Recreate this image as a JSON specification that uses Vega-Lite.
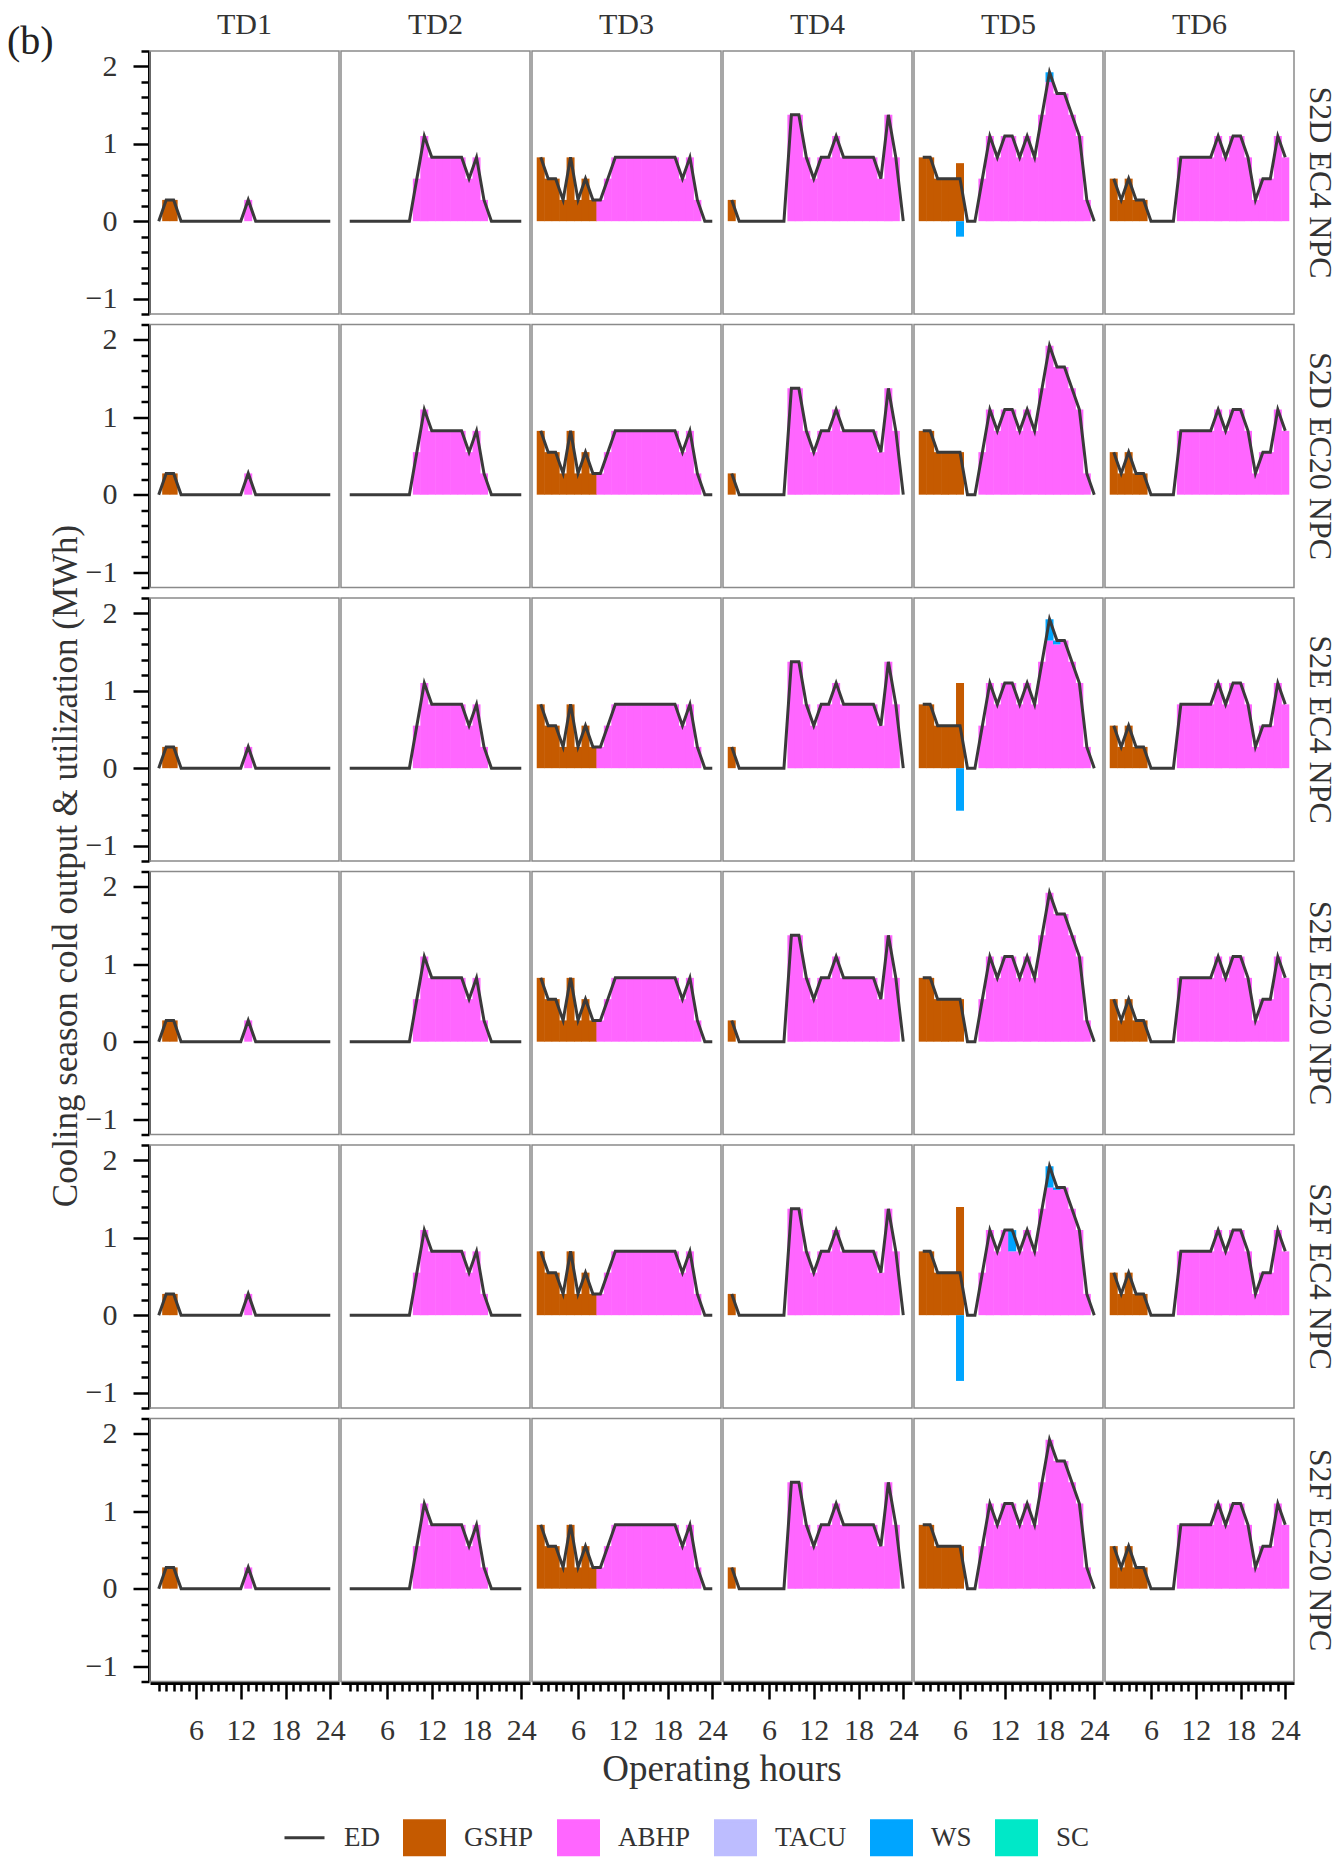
{
  "$schema": "https://vega.github.io/schema/vega-lite/v6.json",
  "background": "white",
  "padding": {"left": 6, "top": 10, "right": 8, "bottom": 10},
  "title": {
    "text": "(b)",
    "anchor": "start",
    "frame": "bounds",
    "offset": -52,
    "dx": -42,
    "font": "Liberation Serif",
    "fontSize": 40,
    "fontWeight": "normal",
    "color": "#222"
  },
  "data": {
    "values": [
      {"s": "S2D EC4 NPC", "t": "TD1", "h": [1,2,3,4,5,6,7,8,9,10,11,12,13,14,15,16,17,18,19,20,21,22,23,24], "ED": [0,0.275,0.275,0,0,0,0,0,0,0,0,0,0.275,0,0,0,0,0,0,0,0,0,0,0], "GSHP": [0,0.275,0.275,0,0,0,0,0,0,0,0,0,0,0,0,0,0,0,0,0,0,0,0,0], "ABHP": [0,0,0,0,0,0,0,0,0,0,0,0,0.275,0,0,0,0,0,0,0,0,0,0,0], "WS": []},
      {"s": "S2D EC4 NPC", "t": "TD2", "h": [1,2,3,4,5,6,7,8,9,10,11,12,13,14,15,16,17,18,19,20,21,22,23,24], "ED": [0,0,0,0,0,0,0,0,0,0.55,1.1,0.825,0.825,0.825,0.825,0.825,0.55,0.825,0.275,0,0,0,0,0], "GSHP": [], "ABHP": [0,0,0,0,0,0,0,0,0,0.55,1.1,0.825,0.825,0.825,0.825,0.825,0.55,0.825,0.275,0,0,0,0,0], "WS": []},
      {"s": "S2D EC4 NPC", "t": "TD3", "h": [1,2,3,4,5,6,7,8,9,10,11,12,13,14,15,16,17,18,19,20,21,22,23,24], "ED": [0.825,0.55,0.55,0.275,0.825,0.275,0.55,0.275,0.275,0.55,0.825,0.825,0.825,0.825,0.825,0.825,0.825,0.825,0.825,0.55,0.825,0.275,0,0], "GSHP": [0.825,0.55,0.55,0.275,0.825,0.275,0.55,0.275,0,0,0,0,0,0,0,0,0,0,0,0,0,0,0,0], "ABHP": [0,0,0,0,0,0,0,0,0.275,0.55,0.825,0.825,0.825,0.825,0.825,0.825,0.825,0.825,0.825,0.55,0.825,0.275,0,0], "WS": []},
      {"s": "S2D EC4 NPC", "t": "TD4", "h": [1,2,3,4,5,6,7,8,9,10,11,12,13,14,15,16,17,18,19,20,21,22,23,24], "ED": [0.275,0,0,0,0,0,0,0,1.375,1.375,0.825,0.55,0.825,0.825,1.1,0.825,0.825,0.825,0.825,0.825,0.55,1.375,0.825,0], "GSHP": [0.275,0,0,0,0,0,0,0,0,0,0,0,0,0,0,0,0,0,0,0,0,0,0,0], "ABHP": [0,0,0,0,0,0,0,0,1.375,1.375,0.825,0.55,0.825,0.825,1.1,0.825,0.825,0.825,0.825,0.825,0.55,1.375,0.825,0], "WS": []},
      {"s": "S2D EC4 NPC", "t": "TD5", "h": [1,2,3,4,5,6,7,8,9,10,11,12,13,14,15,16,17,18,19,20,21,22,23,24], "ED": [0.825,0.825,0.55,0.55,0.55,0.55,0,0,0.55,1.1,0.825,1.1,1.1,0.825,1.1,0.825,1.375,1.925,1.65,1.65,1.375,1.1,0.275,0], "GSHP": [0.825,0.825,0.55,0.55,0.55,0.75,0,0,0,0,0,0,0,0,0,0,0,0,0,0,0,0,0,0], "ABHP": [0,0,0,0,0,0,0,0,0.55,1.1,0.825,1.1,1.1,0.825,1.1,0.825,1.375,1.8,1.65,1.65,1.375,1.1,0.275,0], "WS": [0,0,0,0,0,-0.2,0,0,0,0,0,0,0,0,0,0,0,0.125,0,0,0,0,0,0]},
      {"s": "S2D EC4 NPC", "t": "TD6", "h": [1,2,3,4,5,6,7,8,9,10,11,12,13,14,15,16,17,18,19,20,21,22,23,24], "ED": [0.55,0.275,0.55,0.275,0.275,0,0,0,0,0.825,0.825,0.825,0.825,0.825,1.1,0.825,1.1,1.1,0.825,0.275,0.55,0.55,1.1,0.825], "GSHP": [0.55,0.275,0.55,0.275,0.275,0,0,0,0,0,0,0,0,0,0,0,0,0,0,0,0,0,0,0], "ABHP": [0,0,0,0,0,0,0,0,0,0.825,0.825,0.825,0.825,0.825,1.1,0.825,1.1,1.1,0.825,0.275,0.55,0.55,1.1,0.825], "WS": []},

      {"s": "S2D EC20 NPC", "t": "TD1", "h": [1,2,3,4,5,6,7,8,9,10,11,12,13,14,15,16,17,18,19,20,21,22,23,24], "ED": [0,0.275,0.275,0,0,0,0,0,0,0,0,0,0.275,0,0,0,0,0,0,0,0,0,0,0], "GSHP": [0,0.275,0.275,0,0,0,0,0,0,0,0,0,0,0,0,0,0,0,0,0,0,0,0,0], "ABHP": [0,0,0,0,0,0,0,0,0,0,0,0,0.275,0,0,0,0,0,0,0,0,0,0,0], "WS": []},
      {"s": "S2D EC20 NPC", "t": "TD2", "h": [1,2,3,4,5,6,7,8,9,10,11,12,13,14,15,16,17,18,19,20,21,22,23,24], "ED": [0,0,0,0,0,0,0,0,0,0.55,1.1,0.825,0.825,0.825,0.825,0.825,0.55,0.825,0.275,0,0,0,0,0], "GSHP": [], "ABHP": [0,0,0,0,0,0,0,0,0,0.55,1.1,0.825,0.825,0.825,0.825,0.825,0.55,0.825,0.275,0,0,0,0,0], "WS": []},
      {"s": "S2D EC20 NPC", "t": "TD3", "h": [1,2,3,4,5,6,7,8,9,10,11,12,13,14,15,16,17,18,19,20,21,22,23,24], "ED": [0.825,0.55,0.55,0.275,0.825,0.275,0.55,0.275,0.275,0.55,0.825,0.825,0.825,0.825,0.825,0.825,0.825,0.825,0.825,0.55,0.825,0.275,0,0], "GSHP": [0.825,0.55,0.55,0.275,0.825,0.275,0.55,0.275,0,0,0,0,0,0,0,0,0,0,0,0,0,0,0,0], "ABHP": [0,0,0,0,0,0,0,0,0.275,0.55,0.825,0.825,0.825,0.825,0.825,0.825,0.825,0.825,0.825,0.55,0.825,0.275,0,0], "WS": []},
      {"s": "S2D EC20 NPC", "t": "TD4", "h": [1,2,3,4,5,6,7,8,9,10,11,12,13,14,15,16,17,18,19,20,21,22,23,24], "ED": [0.275,0,0,0,0,0,0,0,1.375,1.375,0.825,0.55,0.825,0.825,1.1,0.825,0.825,0.825,0.825,0.825,0.55,1.375,0.825,0], "GSHP": [0.275,0,0,0,0,0,0,0,0,0,0,0,0,0,0,0,0,0,0,0,0,0,0,0], "ABHP": [0,0,0,0,0,0,0,0,1.375,1.375,0.825,0.55,0.825,0.825,1.1,0.825,0.825,0.825,0.825,0.825,0.55,1.375,0.825,0], "WS": []},
      {"s": "S2D EC20 NPC", "t": "TD5", "h": [1,2,3,4,5,6,7,8,9,10,11,12,13,14,15,16,17,18,19,20,21,22,23,24], "ED": [0.825,0.825,0.55,0.55,0.55,0.55,0,0,0.55,1.1,0.825,1.1,1.1,0.825,1.1,0.825,1.375,1.925,1.65,1.65,1.375,1.1,0.275,0], "GSHP": [0.825,0.825,0.55,0.55,0.55,0.55,0,0,0,0,0,0,0,0,0,0,0,0,0,0,0,0,0,0], "ABHP": [0,0,0,0,0,0,0,0,0.55,1.1,0.825,1.1,1.1,0.825,1.1,0.825,1.375,1.925,1.65,1.65,1.375,1.1,0.275,0], "WS": []},
      {"s": "S2D EC20 NPC", "t": "TD6", "h": [1,2,3,4,5,6,7,8,9,10,11,12,13,14,15,16,17,18,19,20,21,22,23,24], "ED": [0.55,0.275,0.55,0.275,0.275,0,0,0,0,0.825,0.825,0.825,0.825,0.825,1.1,0.825,1.1,1.1,0.825,0.275,0.55,0.55,1.1,0.825], "GSHP": [0.55,0.275,0.55,0.275,0.275,0,0,0,0,0,0,0,0,0,0,0,0,0,0,0,0,0,0,0], "ABHP": [0,0,0,0,0,0,0,0,0,0.825,0.825,0.825,0.825,0.825,1.1,0.825,1.1,1.1,0.825,0.275,0.55,0.55,1.1,0.825], "WS": []},

      {"s": "S2E EC4 NPC", "t": "TD1", "h": [1,2,3,4,5,6,7,8,9,10,11,12,13,14,15,16,17,18,19,20,21,22,23,24], "ED": [0,0.275,0.275,0,0,0,0,0,0,0,0,0,0.275,0,0,0,0,0,0,0,0,0,0,0], "GSHP": [0,0.275,0.275,0,0,0,0,0,0,0,0,0,0,0,0,0,0,0,0,0,0,0,0,0], "ABHP": [0,0,0,0,0,0,0,0,0,0,0,0,0.275,0,0,0,0,0,0,0,0,0,0,0], "WS": []},
      {"s": "S2E EC4 NPC", "t": "TD2", "h": [1,2,3,4,5,6,7,8,9,10,11,12,13,14,15,16,17,18,19,20,21,22,23,24], "ED": [0,0,0,0,0,0,0,0,0,0.55,1.1,0.825,0.825,0.825,0.825,0.825,0.55,0.825,0.275,0,0,0,0,0], "GSHP": [], "ABHP": [0,0,0,0,0,0,0,0,0,0.55,1.1,0.825,0.825,0.825,0.825,0.825,0.55,0.825,0.275,0,0,0,0,0], "WS": []},
      {"s": "S2E EC4 NPC", "t": "TD3", "h": [1,2,3,4,5,6,7,8,9,10,11,12,13,14,15,16,17,18,19,20,21,22,23,24], "ED": [0.825,0.55,0.55,0.275,0.825,0.275,0.55,0.275,0.275,0.55,0.825,0.825,0.825,0.825,0.825,0.825,0.825,0.825,0.825,0.55,0.825,0.275,0,0], "GSHP": [0.825,0.55,0.55,0.275,0.825,0.275,0.55,0.275,0,0,0,0,0,0,0,0,0,0,0,0,0,0,0,0], "ABHP": [0,0,0,0,0,0,0,0,0.275,0.55,0.825,0.825,0.825,0.825,0.825,0.825,0.825,0.825,0.825,0.55,0.825,0.275,0,0], "WS": []},
      {"s": "S2E EC4 NPC", "t": "TD4", "h": [1,2,3,4,5,6,7,8,9,10,11,12,13,14,15,16,17,18,19,20,21,22,23,24], "ED": [0.275,0,0,0,0,0,0,0,1.375,1.375,0.825,0.55,0.825,0.825,1.1,0.825,0.825,0.825,0.825,0.825,0.55,1.375,0.825,0], "GSHP": [0.275,0,0,0,0,0,0,0,0,0,0,0,0,0,0,0,0,0,0,0,0,0,0,0], "ABHP": [0,0,0,0,0,0,0,0,1.375,1.375,0.825,0.55,0.825,0.825,1.1,0.825,0.825,0.825,0.825,0.825,0.55,1.375,0.825,0], "WS": []},
      {"s": "S2E EC4 NPC", "t": "TD5", "h": [1,2,3,4,5,6,7,8,9,10,11,12,13,14,15,16,17,18,19,20,21,22,23,24], "ED": [0.825,0.825,0.55,0.55,0.55,0.55,0,0,0.55,1.1,0.825,1.1,1.1,0.825,1.1,0.825,1.375,1.925,1.65,1.65,1.375,1.1,0.275,0], "GSHP": [0.825,0.825,0.55,0.55,0.55,1.1,0,0,0,0,0,0,0,0,0,0,0,0,0,0,0,0,0,0], "ABHP": [0,0,0,0,0,0,0,0,0.55,1.1,0.825,1.1,1.1,0.825,1.1,0.825,1.375,1.65,1.6,1.65,1.375,1.1,0.275,0], "WS": [0,0,0,0,0,-0.55,0,0,0,0,0,0,0,0,0,0,0,0.275,0.05,0,0,0,0,0]},
      {"s": "S2E EC4 NPC", "t": "TD6", "h": [1,2,3,4,5,6,7,8,9,10,11,12,13,14,15,16,17,18,19,20,21,22,23,24], "ED": [0.55,0.275,0.55,0.275,0.275,0,0,0,0,0.825,0.825,0.825,0.825,0.825,1.1,0.825,1.1,1.1,0.825,0.275,0.55,0.55,1.1,0.825], "GSHP": [0.55,0.275,0.55,0.275,0.275,0,0,0,0,0,0,0,0,0,0,0,0,0,0,0,0,0,0,0], "ABHP": [0,0,0,0,0,0,0,0,0,0.825,0.825,0.825,0.825,0.825,1.1,0.825,1.1,1.1,0.825,0.275,0.55,0.55,1.1,0.825], "WS": []},

      {"s": "S2E EC20 NPC", "t": "TD1", "h": [1,2,3,4,5,6,7,8,9,10,11,12,13,14,15,16,17,18,19,20,21,22,23,24], "ED": [0,0.275,0.275,0,0,0,0,0,0,0,0,0,0.275,0,0,0,0,0,0,0,0,0,0,0], "GSHP": [0,0.275,0.275,0,0,0,0,0,0,0,0,0,0,0,0,0,0,0,0,0,0,0,0,0], "ABHP": [0,0,0,0,0,0,0,0,0,0,0,0,0.275,0,0,0,0,0,0,0,0,0,0,0], "WS": []},
      {"s": "S2E EC20 NPC", "t": "TD2", "h": [1,2,3,4,5,6,7,8,9,10,11,12,13,14,15,16,17,18,19,20,21,22,23,24], "ED": [0,0,0,0,0,0,0,0,0,0.55,1.1,0.825,0.825,0.825,0.825,0.825,0.55,0.825,0.275,0,0,0,0,0], "GSHP": [], "ABHP": [0,0,0,0,0,0,0,0,0,0.55,1.1,0.825,0.825,0.825,0.825,0.825,0.55,0.825,0.275,0,0,0,0,0], "WS": []},
      {"s": "S2E EC20 NPC", "t": "TD3", "h": [1,2,3,4,5,6,7,8,9,10,11,12,13,14,15,16,17,18,19,20,21,22,23,24], "ED": [0.825,0.55,0.55,0.275,0.825,0.275,0.55,0.275,0.275,0.55,0.825,0.825,0.825,0.825,0.825,0.825,0.825,0.825,0.825,0.55,0.825,0.275,0,0], "GSHP": [0.825,0.55,0.55,0.275,0.825,0.275,0.55,0.275,0,0,0,0,0,0,0,0,0,0,0,0,0,0,0,0], "ABHP": [0,0,0,0,0,0,0,0,0.275,0.55,0.825,0.825,0.825,0.825,0.825,0.825,0.825,0.825,0.825,0.55,0.825,0.275,0,0], "WS": []},
      {"s": "S2E EC20 NPC", "t": "TD4", "h": [1,2,3,4,5,6,7,8,9,10,11,12,13,14,15,16,17,18,19,20,21,22,23,24], "ED": [0.275,0,0,0,0,0,0,0,1.375,1.375,0.825,0.55,0.825,0.825,1.1,0.825,0.825,0.825,0.825,0.825,0.55,1.375,0.825,0], "GSHP": [0.275,0,0,0,0,0,0,0,0,0,0,0,0,0,0,0,0,0,0,0,0,0,0,0], "ABHP": [0,0,0,0,0,0,0,0,1.375,1.375,0.825,0.55,0.825,0.825,1.1,0.825,0.825,0.825,0.825,0.825,0.55,1.375,0.825,0], "WS": []},
      {"s": "S2E EC20 NPC", "t": "TD5", "h": [1,2,3,4,5,6,7,8,9,10,11,12,13,14,15,16,17,18,19,20,21,22,23,24], "ED": [0.825,0.825,0.55,0.55,0.55,0.55,0,0,0.55,1.1,0.825,1.1,1.1,0.825,1.1,0.825,1.375,1.925,1.65,1.65,1.375,1.1,0.275,0], "GSHP": [0.825,0.825,0.55,0.55,0.55,0.55,0,0,0,0,0,0,0,0,0,0,0,0,0,0,0,0,0,0], "ABHP": [0,0,0,0,0,0,0,0,0.55,1.1,0.825,1.1,1.1,0.825,1.1,0.825,1.375,1.925,1.65,1.65,1.375,1.1,0.275,0], "WS": []},
      {"s": "S2E EC20 NPC", "t": "TD6", "h": [1,2,3,4,5,6,7,8,9,10,11,12,13,14,15,16,17,18,19,20,21,22,23,24], "ED": [0.55,0.275,0.55,0.275,0.275,0,0,0,0,0.825,0.825,0.825,0.825,0.825,1.1,0.825,1.1,1.1,0.825,0.275,0.55,0.55,1.1,0.825], "GSHP": [0.55,0.275,0.55,0.275,0.275,0,0,0,0,0,0,0,0,0,0,0,0,0,0,0,0,0,0,0], "ABHP": [0,0,0,0,0,0,0,0,0,0.825,0.825,0.825,0.825,0.825,1.1,0.825,1.1,1.1,0.825,0.275,0.55,0.55,1.1,0.825], "WS": []},

      {"s": "S2F EC4 NPC", "t": "TD1", "h": [1,2,3,4,5,6,7,8,9,10,11,12,13,14,15,16,17,18,19,20,21,22,23,24], "ED": [0,0.275,0.275,0,0,0,0,0,0,0,0,0,0.275,0,0,0,0,0,0,0,0,0,0,0], "GSHP": [0,0.275,0.275,0,0,0,0,0,0,0,0,0,0,0,0,0,0,0,0,0,0,0,0,0], "ABHP": [0,0,0,0,0,0,0,0,0,0,0,0,0.275,0,0,0,0,0,0,0,0,0,0,0], "WS": []},
      {"s": "S2F EC4 NPC", "t": "TD2", "h": [1,2,3,4,5,6,7,8,9,10,11,12,13,14,15,16,17,18,19,20,21,22,23,24], "ED": [0,0,0,0,0,0,0,0,0,0.55,1.1,0.825,0.825,0.825,0.825,0.825,0.55,0.825,0.275,0,0,0,0,0], "GSHP": [], "ABHP": [0,0,0,0,0,0,0,0,0,0.55,1.1,0.825,0.825,0.825,0.825,0.825,0.55,0.825,0.275,0,0,0,0,0], "WS": []},
      {"s": "S2F EC4 NPC", "t": "TD3", "h": [1,2,3,4,5,6,7,8,9,10,11,12,13,14,15,16,17,18,19,20,21,22,23,24], "ED": [0.825,0.55,0.55,0.275,0.825,0.275,0.55,0.275,0.275,0.55,0.825,0.825,0.825,0.825,0.825,0.825,0.825,0.825,0.825,0.55,0.825,0.275,0,0], "GSHP": [0.825,0.55,0.55,0.275,0.825,0.275,0.55,0.275,0,0,0,0,0,0,0,0,0,0,0,0,0,0,0,0], "ABHP": [0,0,0,0,0,0,0,0,0.275,0.55,0.825,0.825,0.825,0.825,0.825,0.825,0.825,0.825,0.825,0.55,0.825,0.275,0,0], "WS": []},
      {"s": "S2F EC4 NPC", "t": "TD4", "h": [1,2,3,4,5,6,7,8,9,10,11,12,13,14,15,16,17,18,19,20,21,22,23,24], "ED": [0.275,0,0,0,0,0,0,0,1.375,1.375,0.825,0.55,0.825,0.825,1.1,0.825,0.825,0.825,0.825,0.825,0.55,1.375,0.825,0], "GSHP": [0.275,0,0,0,0,0,0,0,0,0,0,0,0,0,0,0,0,0,0,0,0,0,0,0], "ABHP": [0,0,0,0,0,0,0,0,1.375,1.375,0.825,0.55,0.825,0.825,1.1,0.825,0.825,0.825,0.825,0.825,0.55,1.375,0.825,0], "WS": []},
      {"s": "S2F EC4 NPC", "t": "TD5", "h": [1,2,3,4,5,6,7,8,9,10,11,12,13,14,15,16,17,18,19,20,21,22,23,24], "ED": [0.825,0.825,0.55,0.55,0.55,0.55,0,0,0.55,1.1,0.825,1.1,1.1,0.825,1.1,0.825,1.375,1.925,1.65,1.65,1.375,1.1,0.275,0], "GSHP": [0.825,0.825,0.55,0.55,0.55,1.4,0,0,0,0,0,0,0,0,0,0,0,0,0,0,0,0,0,0], "ABHP": [0,0,0,0,0,0,0,0,0.55,1.1,0.825,1.1,0.825,0.825,1.1,0.825,1.375,1.65,1.62,1.65,1.375,1.1,0.275,0], "WS": [0,0,0,0,0,-0.85,0,0,0,0,0,0,0.275,0,0,0,0,0.275,0.03,0,0,0,0,0]},
      {"s": "S2F EC4 NPC", "t": "TD6", "h": [1,2,3,4,5,6,7,8,9,10,11,12,13,14,15,16,17,18,19,20,21,22,23,24], "ED": [0.55,0.275,0.55,0.275,0.275,0,0,0,0,0.825,0.825,0.825,0.825,0.825,1.1,0.825,1.1,1.1,0.825,0.275,0.55,0.55,1.1,0.825], "GSHP": [0.55,0.275,0.55,0.275,0.275,0,0,0,0,0,0,0,0,0,0,0,0,0,0,0,0,0,0,0], "ABHP": [0,0,0,0,0,0,0,0,0,0.825,0.825,0.825,0.825,0.825,1.1,0.825,1.1,1.1,0.825,0.275,0.55,0.55,1.1,0.825], "WS": []},

      {"s": "S2F EC20 NPC", "t": "TD1", "h": [1,2,3,4,5,6,7,8,9,10,11,12,13,14,15,16,17,18,19,20,21,22,23,24], "ED": [0,0.275,0.275,0,0,0,0,0,0,0,0,0,0.275,0,0,0,0,0,0,0,0,0,0,0], "GSHP": [0,0.275,0.275,0,0,0,0,0,0,0,0,0,0,0,0,0,0,0,0,0,0,0,0,0], "ABHP": [0,0,0,0,0,0,0,0,0,0,0,0,0.275,0,0,0,0,0,0,0,0,0,0,0], "WS": []},
      {"s": "S2F EC20 NPC", "t": "TD2", "h": [1,2,3,4,5,6,7,8,9,10,11,12,13,14,15,16,17,18,19,20,21,22,23,24], "ED": [0,0,0,0,0,0,0,0,0,0.55,1.1,0.825,0.825,0.825,0.825,0.825,0.55,0.825,0.275,0,0,0,0,0], "GSHP": [], "ABHP": [0,0,0,0,0,0,0,0,0,0.55,1.1,0.825,0.825,0.825,0.825,0.825,0.55,0.825,0.275,0,0,0,0,0], "WS": []},
      {"s": "S2F EC20 NPC", "t": "TD3", "h": [1,2,3,4,5,6,7,8,9,10,11,12,13,14,15,16,17,18,19,20,21,22,23,24], "ED": [0.825,0.55,0.55,0.275,0.825,0.275,0.55,0.275,0.275,0.55,0.825,0.825,0.825,0.825,0.825,0.825,0.825,0.825,0.825,0.55,0.825,0.275,0,0], "GSHP": [0.825,0.55,0.55,0.275,0.825,0.275,0.55,0.275,0,0,0,0,0,0,0,0,0,0,0,0,0,0,0,0], "ABHP": [0,0,0,0,0,0,0,0,0.275,0.55,0.825,0.825,0.825,0.825,0.825,0.825,0.825,0.825,0.825,0.55,0.825,0.275,0,0], "WS": []},
      {"s": "S2F EC20 NPC", "t": "TD4", "h": [1,2,3,4,5,6,7,8,9,10,11,12,13,14,15,16,17,18,19,20,21,22,23,24], "ED": [0.275,0,0,0,0,0,0,0,1.375,1.375,0.825,0.55,0.825,0.825,1.1,0.825,0.825,0.825,0.825,0.825,0.55,1.375,0.825,0], "GSHP": [0.275,0,0,0,0,0,0,0,0,0,0,0,0,0,0,0,0,0,0,0,0,0,0,0], "ABHP": [0,0,0,0,0,0,0,0,1.375,1.375,0.825,0.55,0.825,0.825,1.1,0.825,0.825,0.825,0.825,0.825,0.55,1.375,0.825,0], "WS": []},
      {"s": "S2F EC20 NPC", "t": "TD5", "h": [1,2,3,4,5,6,7,8,9,10,11,12,13,14,15,16,17,18,19,20,21,22,23,24], "ED": [0.825,0.825,0.55,0.55,0.55,0.55,0,0,0.55,1.1,0.825,1.1,1.1,0.825,1.1,0.825,1.375,1.925,1.65,1.65,1.375,1.1,0.275,0], "GSHP": [0.825,0.825,0.55,0.55,0.55,0.55,0,0,0,0,0,0,0,0,0,0,0,0,0,0,0,0,0,0], "ABHP": [0,0,0,0,0,0,0,0,0.55,1.1,0.825,1.1,1.1,0.825,1.1,0.825,1.375,1.925,1.65,1.65,1.375,1.1,0.275,0], "WS": []},
      {"s": "S2F EC20 NPC", "t": "TD6", "h": [1,2,3,4,5,6,7,8,9,10,11,12,13,14,15,16,17,18,19,20,21,22,23,24], "ED": [0.55,0.275,0.55,0.275,0.275,0,0,0,0,0.825,0.825,0.825,0.825,0.825,1.1,0.825,1.1,1.1,0.825,0.275,0.55,0.55,1.1,0.825], "GSHP": [0.55,0.275,0.55,0.275,0.275,0,0,0,0,0,0,0,0,0,0,0,0,0,0,0,0,0,0,0], "ABHP": [0,0,0,0,0,0,0,0,0,0.825,0.825,0.825,0.825,0.825,1.1,0.825,1.1,1.1,0.825,0.275,0.55,0.55,1.1,0.825], "WS": []}
    ]
  },
  "transform": [{"flatten": ["h", "ED", "GSHP", "ABHP", "WS"]}],
  "facet": {
    "row": {
      "field": "s",
      "type": "nominal",
      "sort": ["S2D EC4 NPC", "S2D EC20 NPC", "S2E EC4 NPC", "S2E EC20 NPC", "S2F EC4 NPC", "S2F EC20 NPC"],
      "title": "Cooling season cold output & utilization (MWh)",
      "header": {
        "labelOrient": "right",
        "labelAngle": 90,
        "labelFontSize": 32,
        "labelPadding": 8,
        "titleOrient": "left",
        "titleFontSize": 35,
        "titlePadding": -9
      }
    },
    "column": {
      "field": "t",
      "type": "nominal",
      "title": "Operating hours",
      "header": {
        "labelOrient": "top",
        "labelFontSize": 30,
        "labelPadding": 10,
        "titleOrient": "bottom",
        "titleFontSize": 37,
        "titlePadding": -3
      }
    }
  },
  "spacing": {"row": 8.5, "column": 0},
  "spec": {
    "width": 189,
    "height": 263,
    "layer": [
      {
        "transform": [
          {"fold": ["GSHP", "ABHP", "WS"], "as": ["k", "v"]},
          {"filter": "isValid(datum.v) && datum.v !== 0"}
        ],
        "mark": {"type": "bar", "size": 8, "strokeWidth": 0},
        "encoding": {
          "x": {
            "field": "h",
            "type": "quantitative",
            "title": null,
            "scale": {"domain": [0.5, 24.5], "nice": false, "zero": false},
            "axis": {
              "values": [1,2,3,4,5,6,7,8,9,10,11,12,13,14,15,16,17,18,19,20,21,22,23,24],
              "format": "d",
              "labelExpr": "datum.value % 6 === 0 ? datum.label : ''",
              "tickSize": {"condition": {"test": "datum.value % 6 === 0", "value": 16}, "value": 8},
              "labelPadding": 16,
              "labelFlush": false,
              "labelOverlap": false,
              "labelBound": false
            }
          },
          "y": {
            "field": "v",
            "type": "quantitative",
            "title": null,
            "scale": {"domain": [-1.2, 2.2], "nice": false, "zero": false},
            "axis": {
              "values": [-1.2, -1, -0.8, -0.6, -0.4, -0.2, 0, 0.2, 0.4, 0.6, 0.8, 1, 1.2, 1.4, 1.6, 1.8, 2, 2.2],
              "format": ".0f",
              "labelExpr": "abs(datum.value - round(datum.value)) < 0.001 ? datum.label : ''",
              "tickSize": {"condition": {"test": "abs(datum.value - round(datum.value)) < 0.001", "value": 16}, "value": 8},
              "labelPadding": 16,
              "labelFlush": false,
              "labelOverlap": false,
              "labelBound": false
            }
          },
          "color": {
            "field": "k",
            "type": "nominal",
            "scale": {
              "domain": ["ED", "GSHP", "ABHP", "TACU", "WS", "SC"],
              "range": ["#3a3a3a", "#C55A00", "#FF66FF", "#BDBDFF", "#00A5FF", "#00E8C8"]
            },
            "legend": {
              "orient": "none",
              "legendX": 133,
              "legendY": 1765,
              "direction": "horizontal",
              "title": null,
              "symbolSize": 1600,
              "labelFontSize": 27,
              "labelOffset": 18,
              "columnPadding": 18,
              "encode": {
                "symbols": {
                  "update": {
                    "shape": {"signal": "datum.value === 'ED' ? 'M-1,-0.85M-1,0L1,0M1,0.85' : 'M-1,-0.85H1V0.85H-1Z'"},
                    "fill": {"signal": "datum.value === 'ED' ? 'transparent' : scale('color', datum.value)"},
                    "stroke": {"signal": "datum.value === 'ED' ? '#3a3a3a' : 'transparent'"},
                    "strokeWidth": {"value": 3}
                  }
                }
              }
            }
          },
          "order": {"field": "k", "sort": "ascending"}
        }
      },
      {
        "mark": {"type": "line", "strokeWidth": 3},
        "encoding": {
          "x": {
            "field": "h",
            "type": "quantitative",
            "title": null,
            "scale": {"domain": [0.5, 24.5], "nice": false, "zero": false},
            "axis": {
              "values": [1,2,3,4,5,6,7,8,9,10,11,12,13,14,15,16,17,18,19,20,21,22,23,24],
              "format": "d",
              "labelExpr": "datum.value % 6 === 0 ? datum.label : ''",
              "tickSize": {"condition": {"test": "datum.value % 6 === 0", "value": 16}, "value": 8},
              "labelPadding": 16,
              "labelFlush": false,
              "labelOverlap": false,
              "labelBound": false
            }
          },
          "y": {
            "field": "ED",
            "type": "quantitative",
            "title": null,
            "scale": {"domain": [-1.2, 2.2], "nice": false, "zero": false},
            "axis": {
              "values": [-1.2, -1, -0.8, -0.6, -0.4, -0.2, 0, 0.2, 0.4, 0.6, 0.8, 1, 1.2, 1.4, 1.6, 1.8, 2, 2.2],
              "format": ".0f",
              "labelExpr": "abs(datum.value - round(datum.value)) < 0.001 ? datum.label : ''",
              "tickSize": {"condition": {"test": "abs(datum.value - round(datum.value)) < 0.001", "value": 16}, "value": 8},
              "labelPadding": 16,
              "labelFlush": false,
              "labelOverlap": false,
              "labelBound": false
            }
          },
          "color": {"datum": "ED"}
        }
      }
    ]
  },
  "config": {
    "font": "Liberation Serif",
    "view": {"stroke": "#8a8a8a", "strokeWidth": 1.5},
    "axis": {
      "grid": false,
      "domainColor": "#000000",
      "domainWidth": 3,
      "tickColor": "#000000",
      "tickWidth": 2.5,
      "labelFont": "Liberation Serif",
      "labelFontSize": 30,
      "labelColor": "#333333",
      "labelOverlap": false
    },
    "header": {
      "labelFont": "Liberation Serif",
      "titleFont": "Liberation Serif",
      "labelColor": "#333333",
      "titleColor": "#333333",
      "titleFontWeight": "normal"
    },
    "legend": {
      "labelFont": "Liberation Serif",
      "labelColor": "#333333"
    }
  }
}
